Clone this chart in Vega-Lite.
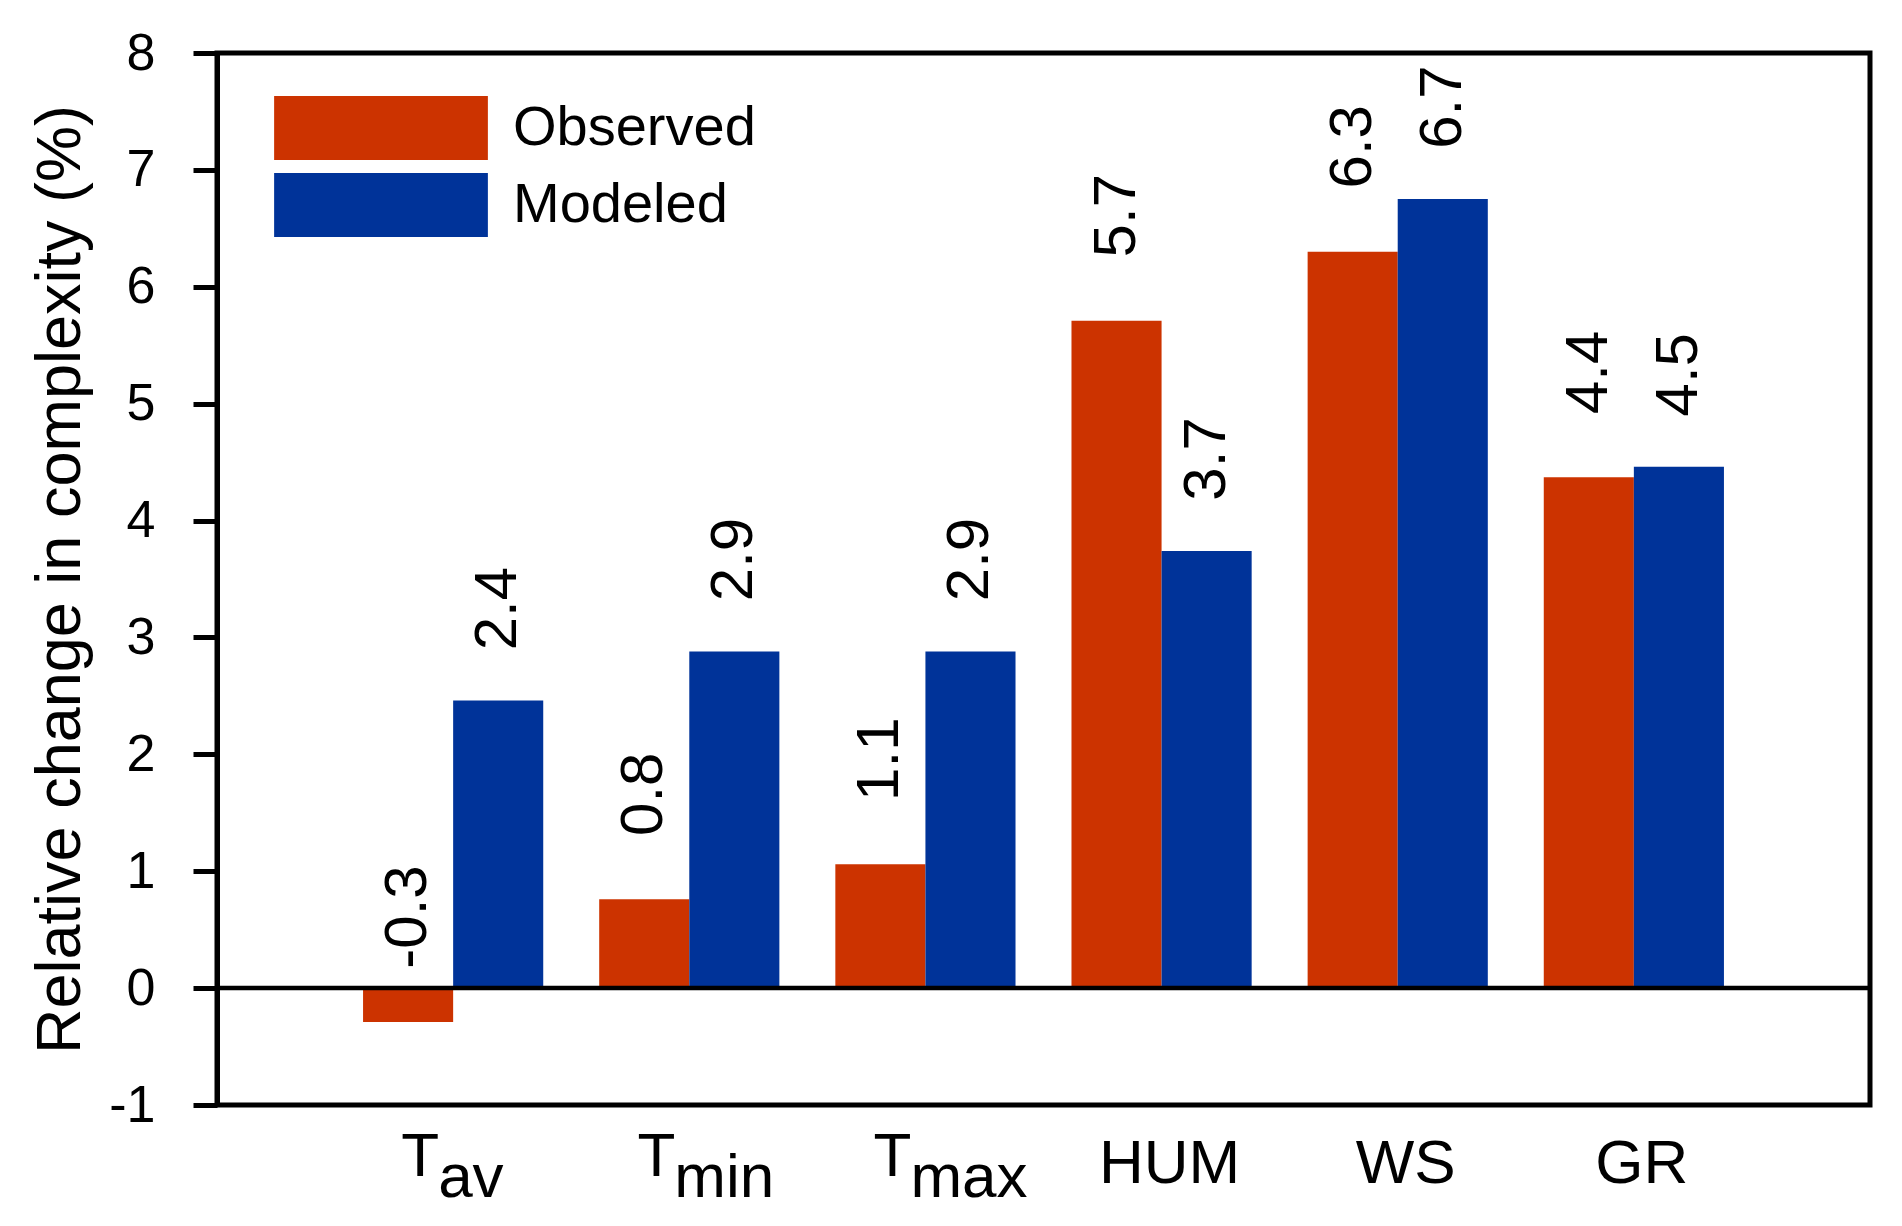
{
  "$schema": "https://vega.github.io/schema/vega-lite/v6.json",
  "width": 1653,
  "height": 1052,
  "autosize": {"type": "none"},
  "padding": {"left": 217, "top": 53, "right": 32, "bottom": 121},
  "background": "white",
  "config": {
    "font": "Liberation Sans",
    "view": {"stroke": "black", "strokeWidth": 5},
    "text": {"color": "black"}
  },
  "datasets": {
    "bars": [
      {"cat": "Tav", "series": "Observed", "value": -0.29, "label": "-0.3"},
      {"cat": "Tav", "series": "Modeled", "value": 2.46, "label": "2.4"},
      {"cat": "Tmin", "series": "Observed", "value": 0.76, "label": "0.8"},
      {"cat": "Tmin", "series": "Modeled", "value": 2.88, "label": "2.9"},
      {"cat": "Tmax", "series": "Observed", "value": 1.06, "label": "1.1"},
      {"cat": "Tmax", "series": "Modeled", "value": 2.88, "label": "2.9"},
      {"cat": "HUM", "series": "Observed", "value": 5.71, "label": "5.7"},
      {"cat": "HUM", "series": "Modeled", "value": 3.74, "label": "3.7"},
      {"cat": "WS", "series": "Observed", "value": 6.3, "label": "6.3"},
      {"cat": "WS", "series": "Modeled", "value": 6.75, "label": "6.7"},
      {"cat": "GR", "series": "Observed", "value": 4.37, "label": "4.4"},
      {"cat": "GR", "series": "Modeled", "value": 4.46, "label": "4.5"}
    ],
    "subs": [
      {"cat": "Tav", "sub": "av"},
      {"cat": "Tmin", "sub": "min"},
      {"cat": "Tmax", "sub": "max"}
    ]
  },
  "layer": [
    {
      "data": {"name": "bars"},
      "mark": {"type": "bar", "strokeWidth": 0},
      "encoding": {
        "x": {
          "field": "cat", "type": "nominal",
          "sort": ["Tav", "Tmin", "Tmax", "HUM", "WS", "GR"],
          "scale": {"paddingInner": 0.237, "paddingOuter": 0.6185},
          "axis": {
            "title": null, "ticks": false, "domain": false, "grid": false,
            "labelAngle": 0, "labelFontSize": 62, "labelColor": "black",
            "labelBaseline": "alphabetic",
            "labelExpr": "indexof(['Tav','Tmin','Tmax'], datum.value) >= 0 ? 'T' : datum.value",
            "labelAlign": {"condition": {"test": "indexof(['Tav','Tmin','Tmax'], datum.value) >= 0", "value": "right"}, "value": "center"},
            "labelOffset": {"condition": {"test": "indexof(['Tav','Tmin','Tmax'], datum.value) >= 0", "value": -14}, "value": 8},
            "labelPadding": {"condition": {"test": "indexof(['Tav','Tmin','Tmax'], datum.value) >= 0", "value": 70}, "value": 77}
          }
        },
        "xOffset": {
          "field": "series", "type": "nominal", "sort": ["Observed", "Modeled"],
          "scale": {"paddingInner": 0, "paddingOuter": 0}
        },
        "y": {
          "field": "value", "type": "quantitative",
          "scale": {"domain": [-1, 8], "nice": false},
          "axis": {
            "values": [-1, 0, 1, 2, 3, 4, 5, 6, 7, 8],
            "labelExpr": "'' + datum.value",
            "title": "Relative change in complexity (%)",
            "titleFontSize": 63, "titleFontWeight": "normal", "titleColor": "black", "titlePadding": 16,
            "labelFontSize": 52, "labelColor": "black", "labelPadding": 38,
            "tickSize": 24, "tickWidth": 5, "tickColor": "black",
            "domainColor": "black", "domainWidth": 5,
            "grid": false, "labelFlush": false, "labelOverlap": false
          }
        },
        "color": {
          "field": "series", "type": "nominal",
          "scale": {"domain": ["Observed", "Modeled"], "range": ["#CC3300", "#003399"]},
          "legend": {
            "title": null, "orient": "none", "legendX": 132, "legendY": 43,
            "symbolType": "M-3.34,-1H3.34V1H-3.34Z", "symbolSize": 4096,
            "symbolStrokeWidth": 0, "symbolOpacity": 1,
            "labelFontSize": 56, "labelColor": "black", "labelOffset": 100, "labelLimit": 0, "rowPadding": 13
          }
        }
      }
    },
    {
      "data": {"name": "bars"},
      "transform": [{"filter": "datum.series === 'Observed'"}],
      "mark": {"type": "text", "angle": 270, "align": "center", "baseline": "middle", "dx": 105, "fontSize": 60, "color": "black"},
      "encoding": {
        "x": {"field": "cat", "type": "nominal", "sort": ["Tav", "Tmin", "Tmax", "HUM", "WS", "GR"]},
        "xOffset": {"field": "series", "type": "nominal", "sort": ["Observed", "Modeled"]},
        "y": {"field": "value", "type": "quantitative"},
        "text": {"field": "label"}
      }
    },
    {
      "data": {"name": "bars"},
      "transform": [{"filter": "datum.series === 'Modeled'"}],
      "mark": {"type": "text", "angle": 270, "align": "center", "baseline": "middle", "dx": 92, "fontSize": 60, "color": "black"},
      "encoding": {
        "x": {"field": "cat", "type": "nominal", "sort": ["Tav", "Tmin", "Tmax", "HUM", "WS", "GR"]},
        "xOffset": {"field": "series", "type": "nominal", "sort": ["Observed", "Modeled"]},
        "y": {"field": "value", "type": "quantitative"},
        "text": {"field": "label"}
      }
    },
    {
      "data": {"name": "subs"},
      "mark": {"type": "text", "align": "left", "baseline": "alphabetic", "dx": -15, "dy": 92, "fontSize": 62, "color": "black"},
      "encoding": {
        "x": {"field": "cat", "type": "nominal", "sort": ["Tav", "Tmin", "Tmax", "HUM", "WS", "GR"]},
        "y": {"datum": -1, "type": "quantitative"},
        "text": {"field": "sub"}
      }
    },
    {
      "data": {"values": [{}]},
      "mark": {"type": "rule", "color": "black", "strokeWidth": 4.5},
      "encoding": {"y": {"datum": 0, "type": "quantitative"}}
    }
  ]
}
